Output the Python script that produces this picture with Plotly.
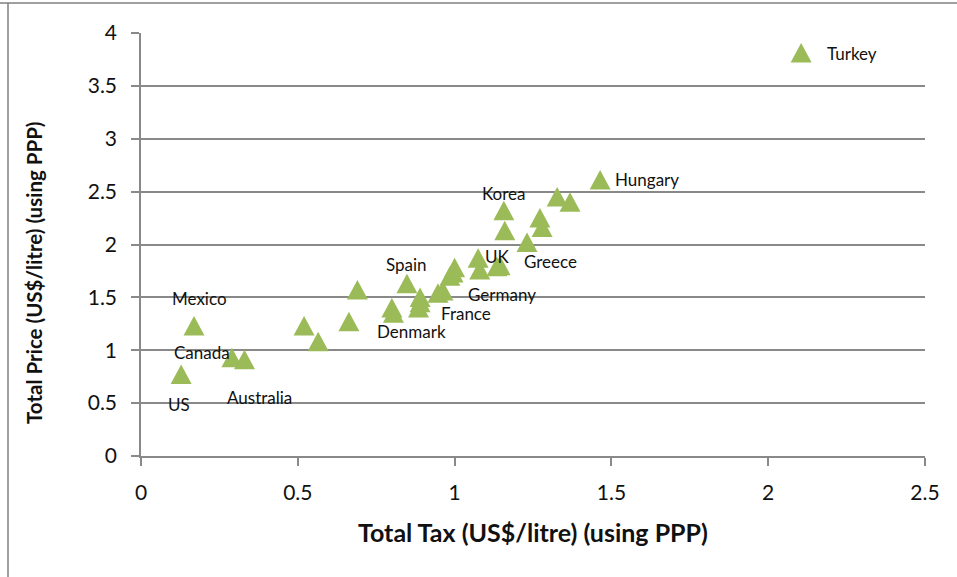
import plotly.graph_objects as go

# Fuel tax vs. total pump price, US$/litre at PPP
tax = [0.128, 0.169, 0.29, 0.33, 0.52, 0.565, 0.663, 0.69, 0.80, 0.805,
       0.848, 0.89, 0.89, 0.885, 0.947, 0.963, 0.985, 1.0, 0.995, 1.075,
       1.08, 1.135, 1.145, 1.157, 1.16, 1.231, 1.272, 1.279, 1.327, 1.368,
       1.464, 2.105]
price = [0.77, 1.23, 0.93, 0.91, 1.23, 1.08, 1.27, 1.57, 1.40, 1.35,
         1.63, 1.50, 1.45, 1.40, 1.54, 1.56, 1.70, 1.78, 1.73, 1.87,
         1.76, 1.79, 1.80, 2.32, 2.13, 2.02, 2.25, 2.16, 2.45, 2.40,
         2.61, 3.81]
names = ["US", "Mexico", "Canada", "Australia", "", "", "", "", "", "Denmark",
         "Spain", "", "", "", "", "France", "", "", "Germany", "UK",
         "", "", "", "Korea", "", "Greece", "", "", "", "",
         "Hungary", "Turkey"]

# pixel offsets of each country label from its marker (x right, y up)
label_offset = {
    "US": (-2, -30), "Mexico": (5, 27), "Canada": (-30, 5),
    "Australia": (15, -38), "Denmark": (18, -18), "Spain": (0, 19),
    "France": (23, -22), "Germany": (49, -21), "UK": (19, 2),
    "Korea": (0, 17), "Greece": (23, -19), "Hungary": (47, 0),
    "Turkey": (51, 0),
}

x_ticks = [0, 0.5, 1, 1.5, 2, 2.5]
y_ticks = [0, 0.5, 1, 1.5, 2, 2.5, 3, 3.5, 4]

GREEN = "#9BBB59"
GRAY = "#898989"
FONT = "Lato"
TEXT = "#111111"

fig = go.Figure()
fig.add_trace(go.Scatter(
    x=tax, y=price, mode="markers", text=names,
    marker=dict(symbol="triangle-up", size=18, color=GREEN, opacity=0),
    hovertemplate="%{text}<br>Tax %{x}<br>Price %{y}<extra></extra>",
    showlegend=False,
))

# triangle markers, fixed pixel size, anchored on each data point
tri = "M -10.5,-9.5 L 10.5,-9.5 L 0,10 Z"
shapes = []
for xv, yv in zip(tax, price):
    shapes.append(dict(
        type="path", xref="x", yref="y", xsizemode="pixel", ysizemode="pixel",
        xanchor=xv, yanchor=yv, path=tri,
        fillcolor=GREEN, line=dict(width=0), layer="above",
    ))

# partial outer frame (top and left edges)
shapes.append(dict(type="line", xref="paper", yref="paper", x0=-141/784, x1=(957-141)/784,
                   y0=(577-121-3)/423, y1=(577-121-3)/423,
                   line=dict(color="#7f7f7f", width=1.5)))
shapes.append(dict(type="line", xref="paper", yref="paper", x0=-133/784, x1=-133/784,
                   y0=-121/423, y1=(577-121-3)/423,
                   line=dict(color="#7f7f7f", width=1.5)))

annotations = []
for xv, yv, nm in zip(tax, price, names):
    if nm:
        dx, dy = label_offset[nm]
        annotations.append(dict(
            x=xv, y=yv, xref="x", yref="y", text=nm, showarrow=False,
            xshift=dx, yshift=dy, font=dict(family=FONT, size=17, color=TEXT),
        ))

annotations.append(dict(
    x=0.5, y=-76/423, xref="paper", yref="paper", yanchor="middle",
    text="<b>Total Tax (US$/litre) (using PPP)</b>", showarrow=False,
    font=dict(family=FONT, size=25, color=TEXT),
))
annotations.append(dict(
    x=-107/784, y=(456-273)/423, xref="paper", yref="paper", xanchor="center",
    yanchor="middle", textangle=-90,
    text="<b>Total Price (US$/litre) (using PPP)</b>", showarrow=False,
    font=dict(family=FONT, size=20.5, color=TEXT),
))

fig.update_layout(
    width=957, height=577,
    margin=dict(l=141, r=32, t=33, b=121),
    paper_bgcolor="white", plot_bgcolor="white",
    font=dict(family=FONT, size=21, color=TEXT),
    shapes=shapes, annotations=annotations,
    showlegend=False,
)
fig.update_xaxes(
    range=[0, 2.5], tickvals=x_ticks, ticktext=[f"{v:g}" for v in x_ticks],
    showgrid=False, zeroline=False,
    showline=True, linecolor=GRAY, linewidth=1.5,
    ticks="outside", ticklen=8, tickcolor=GRAY, tickwidth=1.5,
    ticklabelstandoff=9,
)
fig.update_yaxes(
    range=[0, 4], tickvals=y_ticks, ticktext=[f"{v:g}" for v in y_ticks],
    showgrid=True, gridcolor=GRAY, gridwidth=1.5, zeroline=False,
    showline=True, linecolor=GRAY, linewidth=1.5,
    ticks="outside", ticklen=8, tickcolor=GRAY, tickwidth=1.5,
    ticklabelstandoff=10,
)

fig.write_html("out.html")
